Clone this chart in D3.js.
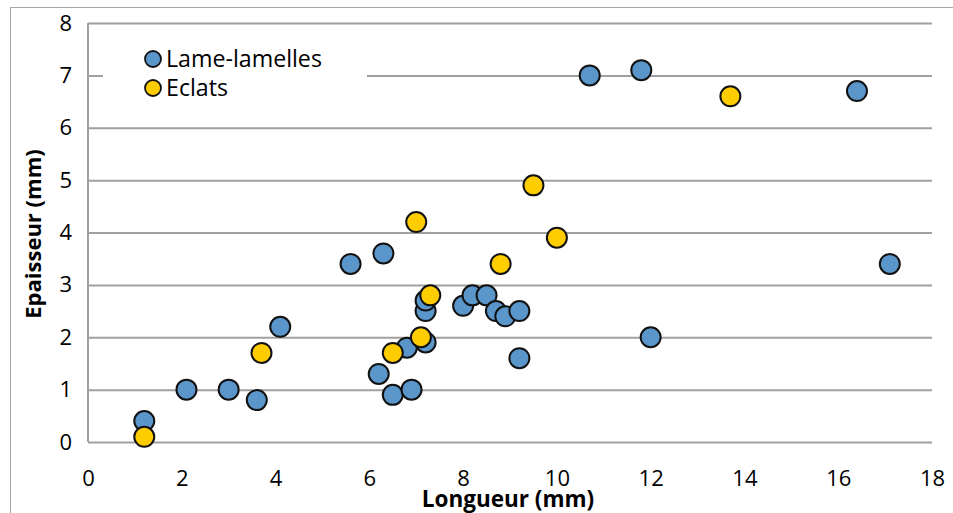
<!DOCTYPE html>
<html>
<head>
<meta charset="utf-8">
<script src="https://cdn.jsdelivr.net/npm/d3@7"></script>
<style>
  html, body { margin: 0; padding: 0; background: #fff; }
  svg { display: block; font-family: "Open Sans", Lato, sans-serif; }
</style>
</head>
<body>
<svg id="chart" width="953" height="513"></svg>
<script>
// Lame-lamelles: length (mm) and thickness (mm)
const lameX = [1.2, 2.1, 3.0, 3.6, 4.1, 5.6, 6.3, 6.2, 6.5, 6.9, 6.8, 7.2, 7.2, 7.2, 8.0, 8.2, 8.5, 8.7, 8.9, 9.2, 9.2, 10.7, 11.8, 16.4, 17.1, 12.0];
const lameY = [0.4, 1.0, 1.0, 0.8, 2.2, 3.4, 3.6, 1.3, 0.9, 1.0, 1.8, 1.9, 2.5, 2.7, 2.6, 2.8, 2.8, 2.5, 2.4, 2.5, 1.6, 7.0, 7.1, 6.7, 3.4, 2.0];

// Eclats: length (mm) and thickness (mm)
const eclatX = [1.2, 3.7, 6.5, 7.1, 7.3, 7.0, 8.8, 9.5, 10.0, 13.7];
const eclatY = [0.1, 1.7, 1.7, 2.0, 2.8, 4.2, 3.4, 4.9, 3.9, 6.6];

const seriesNames = ["Lame-lamelles", "Eclats"];
const seriesColors = ["#5B96CB", "#FFCC00"];

const xTicks = [0, 2, 4, 6, 8, 10, 12, 14, 16, 18];
const yTicks = [0, 1, 2, 3, 4, 5, 6, 7, 8];

const xTitle = "Longueur (mm)";
const yTitle = "Epaisseur (mm)";

const svg = d3.select("#chart");
const plot = { left: 88, right: 932, top: 23, bottom: 442 };

const x = d3.scaleLinear().domain([0, 18]).range([plot.left, plot.right]);
const y = d3.scaleLinear().domain([0, 8]).range([plot.bottom, plot.top]);

// Outer chart frame (extends past the visible area on the right and bottom)
svg.append("rect")
  .attr("x", 10.5).attr("y", 7.5)
  .attr("width", 960).attr("height", 520)
  .attr("fill", "#fff")
  .attr("stroke", "#a6a6a6").attr("stroke-width", 1);

// Horizontal gridlines
svg.append("g")
  .attr("transform", `translate(${plot.left},0)`)
  .call(d3.axisLeft(y).tickValues(yTicks).tickSize(-(plot.right - plot.left)).tickFormat(""))
  .call(g => g.select(".domain").remove())
  .call(g => g.selectAll(".tick line").attr("stroke", "#a0a0a0").attr("stroke-width", 2));

// Vertical axis line
svg.append("line")
  .attr("x1", plot.left).attr("x2", plot.left)
  .attr("y1", plot.top).attr("y2", plot.bottom)
  .attr("stroke", "#a0a0a0").attr("stroke-width", 2);

// Y tick labels
svg.append("g")
  .attr("transform", `translate(${plot.left},0)`)
  .call(d3.axisLeft(y).tickValues(yTicks).tickSize(0).tickPadding(16).tickFormat(d3.format("d")))
  .call(g => g.select(".domain").remove())
  .call(g => g.selectAll("text")
    .attr("font-family", "'Open Sans', Lato, sans-serif")
    .attr("font-size", 22).attr("fill", "#000"));

// X tick labels
svg.append("g")
  .attr("transform", `translate(0,${plot.bottom})`)
  .call(d3.axisBottom(x).tickValues(xTicks).tickSize(0).tickPadding(28).tickFormat(d3.format("d")))
  .call(g => g.select(".domain").remove())
  .call(g => g.selectAll("text")
    .attr("font-family", "'Open Sans', Lato, sans-serif")
    .attr("font-size", 22).attr("fill", "#000"));

// Axis titles
svg.append("text")
  .attr("x", 508).attr("y", 507)
  .attr("text-anchor", "middle")
  .attr("font-size", 22.5).attr("font-weight", "bold")
  .text(xTitle);

svg.append("text")
  .attr("transform", "translate(41,234) rotate(-90)")
  .attr("text-anchor", "middle")
  .attr("font-size", 22).attr("font-weight", "bold")
  .text(yTitle);

// Legend (white box breaks the gridline behind it)
const legend = svg.append("g");
legend.append("rect")
  .attr("x", 103).attr("y", 40).attr("width", 264).attr("height", 62)
  .attr("fill", "#fff");
seriesNames.forEach((name, i) => {
  const cy = 59 + i * 29;
  legend.append("circle")
    .attr("cx", 153).attr("cy", cy).attr("r", 8)
    .attr("fill", seriesColors[i]).attr("stroke", "#111").attr("stroke-width", 1.8);
  legend.append("text")
    .attr("x", 166).attr("y", cy + 8)
    .attr("font-size", 23.2)
    .text(name);
});

// Scatter points: Lame-lamelles first, then Eclats on top
const series = [
  { xs: lameX, ys: lameY, color: seriesColors[0] },
  { xs: eclatX, ys: eclatY, color: seriesColors[1] }
];
series.forEach(s => {
  svg.append("g").selectAll("circle")
    .data(s.xs.map((v, i) => [v, s.ys[i]]))
    .join("circle")
      .attr("cx", d => x(d[0]))
      .attr("cy", d => y(d[1]))
      .attr("r", 10)
      .attr("fill", s.color)
      .attr("stroke", "#111")
      .attr("stroke-width", 2);
});
</script>
</body>
</html>
